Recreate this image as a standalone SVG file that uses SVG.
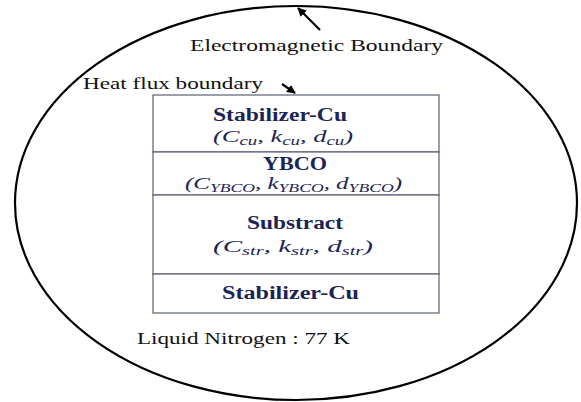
<svg xmlns="http://www.w3.org/2000/svg" width="581" height="402" viewBox="0 0 581 402">
<defs>
<marker id="ah" viewBox="0 0 10 10" refX="9" refY="5" markerWidth="4" markerHeight="4" orient="auto" markerUnits="strokeWidth">
<path d="M0,0 L10,5 L0,10 z" fill="#000"/>
</marker>
<style>
text{font-family:"Liberation Serif","Times New Roman",Times,"Nimbus Roman","FreeSerif","DejaVu Serif","Noto Serif",serif}
.lbl{font-size:17px;fill:#111}
.bold{font-size:18px;font-weight:bold;fill:#1c2456}
.math{font-size:17px;font-style:italic;fill:#1c2456}
.sub{font-size:12px}
.layer{fill:#fff;stroke:#5a5f75;stroke-width:1.2}
</style>
</defs>
<rect width="581" height="402" fill="#fff"/>
<g id="domain">
<ellipse cx="296" cy="203" rx="281" ry="197" fill="none" stroke="#000" stroke-width="2.2"/>
</g>
<g id="layer-stab-top">
<rect class="layer" x="153" y="95" width="286" height="57"/>
<text class="bold" x="213" y="121" textLength="134" lengthAdjust="spacingAndGlyphs">Stabilizer-Cu</text>
<text class="math" x="213" y="142" textLength="140" lengthAdjust="spacingAndGlyphs">(C<tspan class="sub" dy="3">cu</tspan><tspan dy="-3">, k</tspan><tspan class="sub" dy="3">cu</tspan><tspan dy="-3">, d</tspan><tspan class="sub" dy="3">cu</tspan><tspan dy="-3">)</tspan></text>
</g>
<g id="layer-ybco">
<rect class="layer" x="153" y="152" width="286" height="43"/>
<text class="bold" x="263" y="170" textLength="64" lengthAdjust="spacingAndGlyphs">YBCO</text>
<text class="math" x="185" y="189" textLength="217" lengthAdjust="spacingAndGlyphs">(C<tspan class="sub" dy="3">YBCO</tspan><tspan dy="-3">, k</tspan><tspan class="sub" dy="3">YBCO</tspan><tspan dy="-3">, d</tspan><tspan class="sub" dy="3">YBCO</tspan><tspan dy="-3">)</tspan></text>
</g>
<g id="layer-substract">
<rect class="layer" x="153" y="195" width="286" height="79"/>
<text class="bold" x="247" y="229" textLength="96" lengthAdjust="spacingAndGlyphs">Substract</text>
<text class="math" x="213" y="252" textLength="160" lengthAdjust="spacingAndGlyphs">(C<tspan class="sub" dy="3">str</tspan><tspan dy="-3">, k</tspan><tspan class="sub" dy="3">str</tspan><tspan dy="-3">, d</tspan><tspan class="sub" dy="3">str</tspan><tspan dy="-3">)</tspan></text>
</g>
<g id="layer-stab-bottom">
<rect class="layer" x="153" y="274" width="286" height="39"/>
<text class="bold" x="222" y="299" textLength="137" lengthAdjust="spacingAndGlyphs">Stabilizer-Cu</text>
</g>
<g id="labels">
<text class="lbl" x="190" y="51" textLength="253" lengthAdjust="spacingAndGlyphs">Electromagnetic Boundary</text>
<text class="lbl" x="83" y="89" textLength="180" lengthAdjust="spacingAndGlyphs">Heat flux boundary</text>
<text class="lbl" x="137" y="344" textLength="213" lengthAdjust="spacingAndGlyphs">Liquid Nitrogen : 77 K</text>
</g>
<g id="connectors" stroke="#000" stroke-width="2.2" fill="none">
<line x1="320" y1="30" x2="298" y2="8" marker-end="url(#ah)"/>
<line x1="282" y1="84" x2="295" y2="93" marker-end="url(#ah)"/>
</g>
</svg>
